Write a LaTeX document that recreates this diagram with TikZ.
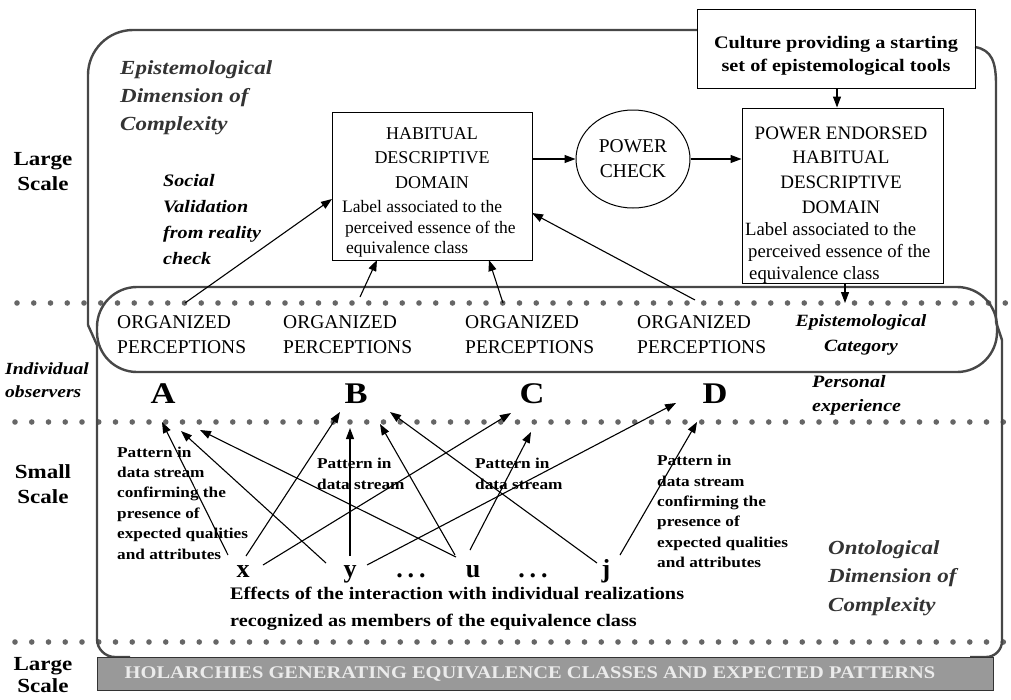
\documentclass[tikz,border=0pt]{standalone}
\usepackage{fontspec}
\setmainfont{Liberation Serif}
\newfontfamily\wf[FakeStretch=1.15]{Liberation Serif}
\usetikzlibrary{arrows.meta,shapes.geometric}
\newcommand\setfs[2]{\fontsize{#1pt}{#2pt}\selectfont}
\begin{document}
\begin{tikzpicture}[x=1pt,y=-1pt,
  outline/.style={draw=black!72, line width=2.4pt},
  box/.style={draw, line width=1pt, inner sep=0pt},
  arr/.style={-{Triangle[length=11pt,width=8pt]}, line width=1.1pt},
  dotc/.style={fill=black!60},
  txt/.style={inner sep=0pt},
  side/.style={txt, font=\wf\bfseries\setfs{20}{25}, align=center},
  bi/.style={txt, font=\wf\bfseries\itshape\setfs{17.4}{24}},
  org/.style={txt, font=\setfs{19.5}{25}, align=left, anchor=west},
  let/.style={txt, font=\wf\bfseries\setfs{30}{30}, anchor=base},
  xl/.style={txt, font=\bfseries\setfs{26}{26}, anchor=base},
  pat/.style={txt, font=\wf\bfseries\setfs{15}{20.4}, align=left, anchor=west},
]
\useasboundingbox (0,0) rectangle (1011,699);

% dotted rows
\foreach \i in {0,...,59} {
  \fill[dotc] (17+16.75*\i,303) circle (2.8);
  \fill[dotc] (15+16.75*\i,422) circle (2.8);
  \fill[dotc] (15+16.75*\i,642) circle (2.8);
}

% outlines
\draw[outline, rounded corners=45] (697,30) -- (88,30) -- (88,325);
\draw[outline] (88,325) -- (97,345);
\draw[outline, rounded corners=18] (97,345) -- (97,657) -- (130,657);
\draw[outline] (975,47) .. controls (992,50) and (996,62) .. (996,85) -- (996,322);
\draw[outline] (996,322) -- (1002,340);
\draw[outline, rounded corners=16] (1002,340) -- (1002,657) -- (970,657);
\draw[outline, rounded corners=40] (97,287) rectangle (997,372);

% bottom bar
\node[draw=black!80, fill=black!40, line width=1pt, minimum width=896pt, minimum height=33pt, inner sep=0pt] (bar) at (545,673.5) {};
\node[txt, font=\wf\bfseries\setfs{17.8}{20}, text=black!8] (bartxt) at (530,674) {HOLARCHIES GENERATING EQUIVALENCE CLASSES AND EXPECTED PATTERNS};

% side labels
\node[side] (ls1) at (43,172) {Large\\Scale};
\node[bi, font=\wf\bfseries\itshape\setfs{17}{23}, align=left, anchor=west] (indobs) at (5,380) {Individual\\observers};
\node[side] (ss) at (43,484) {Small\\Scale};
\node[side, font=\wf\bfseries\setfs{20}{22.5}] (ls2) at (43,675) {Large\\Scale};

% epistemological labels
\node[txt, font=\wf\bfseries\itshape\setfs{20}{28}, text=black!80, align=left, anchor=west] (epd) at (120,98) {Epistemological\\Dimension of\\Complexity};
\node[bi, font=\wf\bfseries\itshape\setfs{17.5}{26}, align=left, anchor=west] (soc) at (163,220) {Social\\Validation\\from reality\\check};

% culture box
\node[box, minimum width=278pt, minimum height=79pt] (cult) at (836,48.5) {};
\node[txt, font=\wf\bfseries\setfs{17.6}{23}, align=center] (culttxt) at (836,56) {Culture providing a starting\\set of epistemological tools};

% habitual box
\node[box, minimum width=200pt, minimum height=148pt] (hab) at (432,186) {};
\node[txt, font=\setfs{18}{24.5}, align=center] (habt) at (432,158) {HABITUAL\\DESCRIPTIVE\\DOMAIN};
\node[txt, font=\setfs{17.5}{20.5}, align=left, anchor=west] (habl) at (342,229) {Label associated to the\\\hspace*{3pt}perceived essence of the\\\hspace*{4pt}equivalence class};

% power check
\node[draw, ellipse, line width=1pt, minimum width=114pt, minimum height=98pt, inner sep=0pt, font=\setfs{19.5}{25}, align=center] (pc) at (633,159) {POWER\\CHECK};

% power endorsed box
\node[box, minimum width=201pt, minimum height=175pt] (pe) at (842.5,195.5) {};
\node[txt, font=\setfs{19}{24.7}, align=center] (pet) at (841,170) {POWER ENDORSED\\HABITUAL\\DESCRIPTIVE\\DOMAIN};
\node[txt, font=\setfs{18.7}{22}, align=left, anchor=west] (pel) at (745,253) {Label associated to the\\\hspace*{3pt}perceived essence of the\\\hspace*{4pt}equivalence class};

% organized perceptions
\node[org] (org1) at (117,334.5) {ORGANIZED\\PERCEPTIONS};
\node[org] (org2) at (283,334.5) {ORGANIZED\\PERCEPTIONS};
\node[org] (org3) at (465,334.5) {ORGANIZED\\PERCEPTIONS};
\node[org] (org4) at (637,334.5) {ORGANIZED\\PERCEPTIONS};
\node[bi, font=\wf\bfseries\itshape\setfs{17.2}{25}, align=center] (cat) at (861,334.5) {Epistemological\\Category};
\node[bi, align=left, anchor=west] (pers) at (812,395) {Personal\\experience};

% observers
\node[let] (A) at (163,403) {A};
\node[let] (B) at (356,403) {B};
\node[let] (C) at (532,403) {C};
\node[let] (D) at (715,403) {D};

% realizations
\node[xl] (x) at (243,577) {x};
\node[xl] (y) at (350,577) {y};
\node[xl] (d1) at (411,577) {.\hspace{5pt}.\hspace{5pt}.};
\node[xl] (u) at (473,577) {u};
\node[xl] (d2) at (533,577) {.\hspace{5pt}.\hspace{5pt}.};
\node[xl] (j) at (606,577) {j};

% pattern labels
\node[pat] (patL) at (117,503) {Pattern in\\data stream\\confirming the\\presence of\\expected qualities\\and attributes};
\node[pat, font=\wf\bfseries\setfs{15}{21.5}] (patM1) at (317,474) {Pattern in\\data stream};
\node[pat, font=\wf\bfseries\setfs{15}{21.5}] (patM2) at (475,474) {Pattern in\\data stream};
\node[pat] (patR) at (657,511.5) {Pattern in\\data stream\\confirming the\\presence of\\expected qualities\\and attributes};

\node[txt, font=\wf\bfseries\setfs{17.6}{27}, align=left, anchor=west] (eff) at (230,608.5) {Effects of the interaction with individual realizations\\recognized as members of the equivalence class};

\node[txt, font=\wf\bfseries\itshape\setfs{20}{28.5}, text=black!80, align=left, anchor=west] (ont) at (828,578) {Ontological\\Dimension of\\Complexity};

% coordinates for connector ends
\coordinate (o1) at (185,303);
\coordinate (o2) at (360,297);
\coordinate (o3) at (503,303);
\coordinate (o4) at (695,300);
\coordinate (h1) at (332,199);
\coordinate (h2) at (377,260);
\coordinate (h3) at (489,260);
\coordinate (h4) at (532,213);
\coordinate (tcat) at (845,303);

\coordinate (xA) at (228,555);
\coordinate (xB) at (246,556);
\coordinate (xC) at (263,565);
\coordinate (yA) at (326,563);
\coordinate (yB) at (350,556);
\coordinate (yD) at (367,565);
\coordinate (uA) at (456,557);
\coordinate (uB) at (455,555);
\coordinate (uC) at (470,550);
\coordinate (jB) at (597,563);
\coordinate (jD) at (620,555);

\coordinate (tA1) at (162,422);
\coordinate (tA2) at (181,431);
\coordinate (tA3) at (200,430);
\coordinate (tB1) at (340,412);
\coordinate (tB2) at (350,428);
\coordinate (tB3) at (380,424);
\coordinate (tB4) at (390,412);
\coordinate (tC1) at (511,413);
\coordinate (tC2) at (531,432);
\coordinate (tD1) at (676,403);
\coordinate (tD2) at (697,422);

% top connectors
\draw[arr] (o1) -- (h1);
\draw[arr] (o2) -- (h2);
\draw[arr] (o3) -- (h3);
\draw[arr] (o4) -- (h4);
\draw[arr] (hab.east |- pc.west) -- (pc.west);
\draw[arr] (pc.east) -- (pe.west |- pc.east);
\draw[arr] (cult.south -| 837,0) -- (pe.north -| 837,0);
\draw[arr] (pe.south -| tcat) -- (tcat);

% bottom connectors
\draw[arr] (xA) -- (tA1);
\draw[arr] (yA) -- (tA2);
\draw[arr] (uA) -- (tA3);
\draw[arr] (xB) -- (tB1);
\draw[arr] (yB) -- (tB2);
\draw[arr] (uB) -- (tB3);
\draw[arr] (jB) -- (tB4);
\draw[arr] (xC) -- (tC1);
\draw[arr] (uC) -- (tC2);
\draw[arr] (yD) -- (tD1);
\draw[arr] (jD) -- (tD2);
\end{tikzpicture}
\end{document}
